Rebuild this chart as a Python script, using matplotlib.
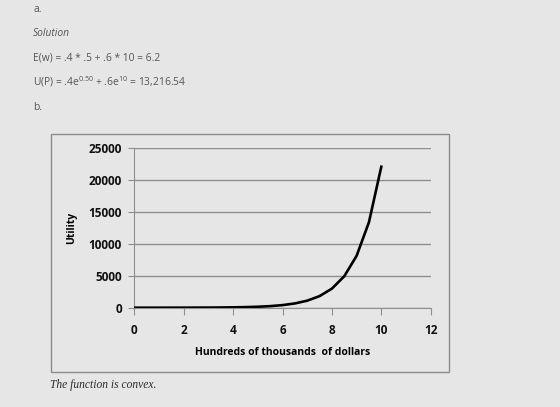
import matplotlib

matplotlib.use('Agg')

import matplotlib.pyplot as plt
from matplotlib.patches import Rectangle

# Utility curve (wealth in hundreds of thousands)
wealth = [0, 0.5, 1, 1.5, 2, 2.5, 3, 3.5, 4, 4.5, 5, 5.5, 6, 6.5, 7,
          7.5, 8, 8.5, 9, 9.5, 10]
utility = [1, 1.6, 2.7, 4.5, 7.4, 12, 20, 33, 55, 90, 148, 245, 403, 665,
           1097, 1808, 2981, 4915, 8103, 13360, 22026]

x_ticks = [0, 2, 4, 6, 8, 10, 12]
y_ticks = [0, 5000, 10000, 15000, 20000, 25000]

BG = '#e6e6e6'
TEXT = '#555555'
AXIS = '#8f8f8f'

plt.rcParams.update({
    'font.family': ['Open Sans', 'DejaVu Sans'],
    'mathtext.default': 'regular',
})

fig = plt.figure(figsize=(5.6, 4.07), dpi=100, facecolor=BG)

# page text above the chart
fs_top = 7.4
fig.text(33 / 560, 1 - 10 / 407, 'a.', fontsize=fs_top, color=TEXT, va='center')
fig.text(33 / 560, 1 - 34 / 407, 'Solution', fontsize=fs_top, color=TEXT,
         va='center', style='italic')
fig.text(33 / 560, 1 - 58 / 407, 'E(w) = .4 * .5 + .6 * 10 = 6.2',
         fontsize=fs_top, color=TEXT, va='center')
fig.text(33 / 560, 1 - 82 / 407,
         'U(P) = .4e$^{0.50}$ + .6e$^{10}$ = 13,216.54',
         fontsize=fs_top, color=TEXT, va='center')
fig.text(33 / 560, 1 - 108 / 407, 'b.', fontsize=fs_top, color=TEXT, va='center')

# chart frame
fig.patches.append(Rectangle((51 / 560, 1 - 372 / 407), 398 / 560, 238 / 407,
                             transform=fig.transFigure, facecolor='none',
                             edgecolor='#8c8c8c', linewidth=1))

ax = fig.add_axes([134.3 / 560, 1 - 307.7 / 407, 296.4 / 560, 160 / 407])
ax.set_facecolor(BG)

ax.plot(wealth, utility, color='black', linewidth=1.9, zorder=3)

ax.set_xlim(0, 12)
ax.set_ylim(0, 25000)
ax.set_xticks(x_ticks)
ax.set_yticks(y_ticks)
ax.grid(axis='y', color=AXIS, linewidth=1)
ax.set_axisbelow(True)

for side in ['top', 'right']:
    ax.spines[side].set_visible(False)
ax.spines['left'].set_color(AXIS)
ax.spines['bottom'].set_color(AXIS)
ax.spines['bottom'].set_zorder(2)

ax.tick_params(axis='y', length=4, color=AXIS, pad=5, labelsize=8.5)
ax.tick_params(axis='x', length=5, color=AXIS, pad=7, labelsize=8.5)
for lab in ax.get_xticklabels() + ax.get_yticklabels():
    lab.set_fontweight('bold')
    lab.set_color('#111111')

ax.set_ylabel('Utility', fontsize=7.5, fontweight='bold', labelpad=8)
ax.set_xlabel('Hundreds of thousands  of dollars', fontsize=7.5,
              fontweight='bold', labelpad=7)

fig.text(50 / 560, 1 - 385 / 407, 'The function is convex.',
         fontsize=8.3, color='#2a2a2a', va='center', style='italic',
         family=['Liberation Serif', 'DejaVu Serif'])

fig.savefig('out.png', dpi=100, facecolor=BG)
